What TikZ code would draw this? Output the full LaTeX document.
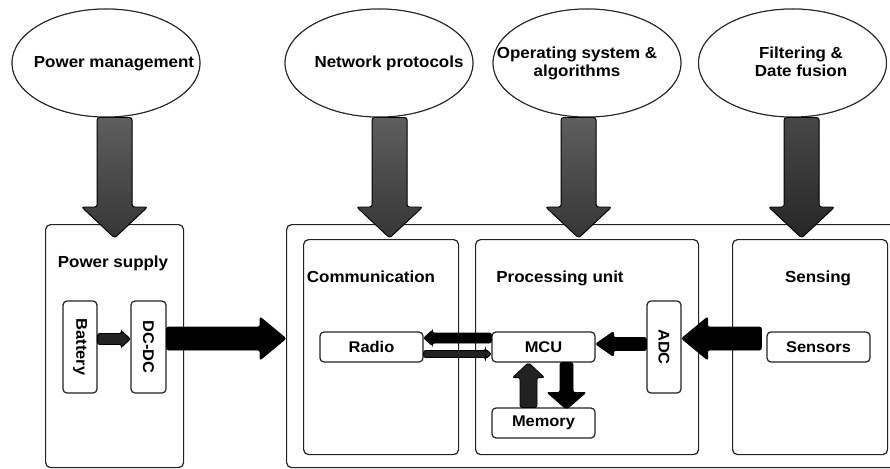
\documentclass[tikz,border=0pt]{standalone}
\usepackage{fontspec}
\setmainfont{Liberation Sans}[FakeStretch=1.06]
\usetikzlibrary{shapes.geometric,calc}

\definecolor{ink}{HTML}{222222}
\definecolor{shadetop}{HTML}{5E5E5E}
\definecolor{shadebot}{HTML}{363636}

% Block arrow from coordinate #2 to coordinate #3:
% #4 = half shaft width, #5 = half head width, #6 = head length (all in pt)
\newcommand\fatarrow[6]{%
  \coordinate (fa-h) at ($(#3)!#6pt!(#2)$);
  \path[#1] ($(#2)!#4pt!-90:(#3)$) -- ($(fa-h)!#4pt!-90:(#3)$)
    -- ($(fa-h)!#5pt!-90:(#3)$) -- (#3) -- ($(fa-h)!#5pt!90:(#3)$)
    -- ($(fa-h)!#4pt!90:(#3)$) -- ($(#2)!#4pt!90:(#3)$) -- cycle;}

\tikzset{
  x=1pt, y=-1pt,
  frame/.style={draw=ink, line width=1.2pt, rounded corners=5pt, inner sep=0pt, anchor=north west},
  part/.style={draw=ink, line width=1.2pt, rounded corners=4pt, inner sep=0pt, fill=white,
    font=\fontsize{15.5}{18}\selectfont\bfseries},
  topic/.style={ellipse, draw=ink, line width=1pt, fill=white, inner sep=0pt,
    minimum width=188pt, minimum height=108pt},
  title/.style={inner sep=0pt, anchor=base, font=\fontsize{16}{18.5}\selectfont\bfseries, align=center},
  greyarrow/.style={draw=black, line width=0.9pt, rounded corners=2.5pt,
    top color=shadetop, bottom color=shadebot},
  blackarrow/.style={draw=black, fill=black, line width=0.8pt, rounded corners=2pt},
}

\begin{document}
\begin{tikzpicture}
\clip (0,0) rectangle (890,468);

% outer frames
\node[frame, minimum width=138pt, minimum height=243pt] (psbox) at (45,224) {};
\node[frame, minimum width=640pt, minimum height=243pt] (outer) at (286,224) {};
\node[frame, minimum width=155pt, minimum height=215pt] (commbox) at (303,239) {};
\node[frame, minimum width=223pt, minimum height=215pt] (procbox) at (475,239) {};
\node[frame, minimum width=155pt, minimum height=215pt] (sensbox) at (732,239) {};

% frame titles
\node[title] (pslabel) at (113,267) {Power supply};
\node[title] (commlabel) at (371,282) {Communication};
\node[title] (proclabel) at (560,282) {Processing unit};
\node[title] (senslabel) at (818,282) {Sensing};

% components
\node[part, minimum width=34pt, minimum height=92pt] (bat) at (80,347) {\rotatebox{-90}{Battery}};
\node[part, minimum width=35pt, minimum height=92pt] (dc) at (148.5,347) {\rotatebox{-90}{DC-DC}};
\node[part, minimum width=103pt, minimum height=30pt] (radio) at (371.5,347) {Radio};
\node[part, minimum width=103pt, minimum height=30pt] (mcu) at (543.5,347) {MCU};
\node[part, minimum width=103pt, minimum height=30pt] (mem) at (543.5,423) {Memory};
\node[part, minimum width=34pt, minimum height=92pt] (adc) at (664,347) {\rotatebox{-90}{ADC}};
\node[part, minimum width=103pt, minimum height=30pt] (sens) at (818.5,347) {Sensors};

% topics
\node[topic] (pm) at (106,63) {};
\node[topic] (np) at (379,63) {};
\node[topic] (os) at (587,63) {};
\node[topic] (ff) at (792.5,63) {};

% arrow end points
\coordinate (pm-tip) at ([yshift=-14pt]psbox.north);
\coordinate (np-tip) at ($(commbox.north)+(8.5,-1)$);
\coordinate (os-tip) at ($(procbox.north)+(-8.5,-1)$);
\coordinate (ff-tip) at ($(sensbox.north)+(-8.5,-1)$);
\coordinate (pm-src) at (pm-tip |- pm.south);
\coordinate (np-src) at (np-tip |- np.south);
\coordinate (os-src) at (os-tip |- os.south);
\coordinate (ff-src) at (ff-tip |- ff.south);

\coordinate (bat-out) at ($(bat.east)+(0,-8)$);
\coordinate (dc-in) at ($(dc.west)+(0,-8)$);
\coordinate (dc-out) at ($(dc.east)+(0,-8.5)$);
\coordinate (node-in) at (outer.west |- dc-out);
\coordinate (mcu-tx) at ($(mcu.west)+(0,-9)$);
\coordinate (radio-rx) at (radio.east |- mcu-tx);
\coordinate (radio-tx) at ($(radio.east)+(0,7)$);
\coordinate (mcu-rx) at (mcu.west |- radio-tx);
\coordinate (mem-out) at ($(mem.north)+(-15,0)$);
\coordinate (mcu-memin) at (mem-out |- mcu.south);
\coordinate (mcu-memout) at ($(mcu.south)+(23,0)$);
\coordinate (mem-in) at ($(mcu-memout |- mem.north)+(0,2)$);
\coordinate (adc-out) at ($(adc.west)+(0,-3)$);
\coordinate (mcu-adcin) at (mcu.east |- adc-out);
\coordinate (sens-out) at ($(sens.west)+(-5,-8.5)$);
\coordinate (adc-in) at (adc.east |- sens-out);

% block arrows
\fatarrow{greyarrow}{pm-src}{pm-tip}{17.5}{33}{31}
\fatarrow{greyarrow}{np-src}{np-tip}{17.5}{33}{31}
\fatarrow{greyarrow}{os-src}{os-tip}{17.5}{33}{31}
\fatarrow{greyarrow, top color=black!72, bottom color=black!85}{ff-src}{ff-tip}{17.5}{33}{31}

\fatarrow{blackarrow, fill=ink}{bat-out}{dc-in}{5.5}{8.5}{9}
\fatarrow{blackarrow}{dc-out}{node-in}{11.5}{21.5}{26}
\fatarrow{blackarrow}{mcu-tx}{radio-rx}{5}{8}{9}
\fatarrow{blackarrow, fill=ink}{radio-tx}{mcu-rx}{3.5}{5}{6}
\fatarrow{blackarrow, fill=ink}{mem-out}{mcu-memin}{8.5}{16}{15}
\fatarrow{blackarrow}{mcu-memout}{mem-in}{6.5}{19.5}{17}
\fatarrow{blackarrow}{adc-out}{mcu-adcin}{6.5}{12.5}{18}
\fatarrow{blackarrow}{sens-out}{adc-in}{11.5}{21.5}{26}

% redraw topics over the arrow tails
\node[topic] at (pm) {};
\node[topic] at (np) {};
\node[topic] at (os) {};
\node[topic] at (ff) {};

% topic texts
\node[title] (pmtext) at (114,68) {Power management};
\node[title] (nptext) at (389,68) {Network protocols};
\node[title] (ostext) at (577,77) {Operating system \&\\algorithms};
\node[title] (fftext) at (801,77) {Filtering \&\\Date fusion};
\end{tikzpicture}
\end{document}
